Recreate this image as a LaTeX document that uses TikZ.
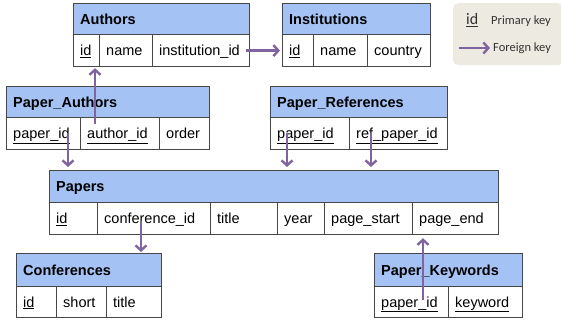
\documentclass[tikz,border=0pt]{standalone}
\usepackage{fontspec}
\setmainfont{Liberation Sans}
\newfontfamily\legendfont{Carlito}
\usetikzlibrary{arrows.meta,calc}
\definecolor{hdr}{HTML}{A4C2F4}
\definecolor{bord}{HTML}{474747}
\definecolor{fkcol}{HTML}{8064A2}
\definecolor{legbg}{HTML}{ECEAE1}
\definecolor{legtxt}{HTML}{333333}
\newcommand{\mkcell}[7]{% style, name, x, y, w, h, text
  \node[cellbox,#1,minimum width=#5pt,minimum height=#6pt] (#2) at (#3,#4) {};
  \node[celltxt] (#2t) at ([xshift=7pt,yshift=-5pt]#2.west) {#7};}
\begin{document}
\begin{tikzpicture}[x=1pt,y=-1pt,
  cellbox/.style={draw=bord,line width=1.2pt,inner sep=0pt,anchor=north west,fill=white},
  hdrbox/.style={fill=hdr},
  celltxt/.style={anchor=base west,inner sep=0pt,font=\fontsize{14.5}{16}\selectfont},
  fk/.style={draw=fkcol,line width=2.4pt,-{Straight Barb[length=5pt,width=11pt]}}]
\useasboundingbox (0,0) rectangle (561,320);
% legend
\node[fill=legbg,rounded corners=5pt,minimum width=110pt,minimum height=62pt,anchor=north west,inner sep=0pt] (legend) at (453,3) {};
\node[anchor=base west,inner sep=0pt,text=legtxt,font=\legendfont\fontsize{16}{18}\selectfont] (lgid) at (466,25) {\underline{id}};
\node[anchor=base west,inner sep=0pt,text=legtxt,font=\legendfont\fontsize{12.5}{14}\selectfont] (lgpk) at (491,25) {Primary key};
\node[anchor=base west,inner sep=0pt,text=legtxt,font=\legendfont\fontsize{12.5}{14}\selectfont] (lgfk) at (493,52) {Foreign key};
\coordinate (lga) at (459,48);
\coordinate (lgb) at (490,48);
\draw[fk] (lga) -- (lgb);
% Authors
\mkcell{hdrbox}{au}{73}{3}{176}{31}{\textbf{Authors}}
\mkcell{}{au_id}{73}{34}{26}{32}{\underline{id}}
\mkcell{}{au_name}{99}{34}{53}{32}{name}
\mkcell{}{au_inst}{152}{34}{97}{32}{institution\_id}
% Institutions
\mkcell{hdrbox}{in}{282}{3}{148}{31}{\textbf{Institutions}}
\mkcell{}{in_id}{282}{34}{31}{32}{\underline{id}}
\mkcell{}{in_name}{313}{34}{54}{32}{name}
\mkcell{}{in_country}{367}{34}{63}{32}{country}
% Paper_Authors
\mkcell{hdrbox}{pa}{6}{86}{203}{31}{\textbf{Paper\_Authors}}
\mkcell{}{pa_pid}{6}{117}{74}{32}{\underline{paper\_id}}
\mkcell{}{pa_aid}{80}{117}{79}{32}{\underline{author\_id}}
\mkcell{}{pa_order}{159}{117}{50}{32}{order}
% Paper_References
\mkcell{hdrbox}{pr}{270}{86}{177}{31}{\textbf{Paper\_References}}
\mkcell{}{pr_pid}{270}{117}{79}{32}{\underline{paper\_id}}
\mkcell{}{pr_rid}{349}{117}{98}{32}{\underline{ref\_paper\_id}}
% Papers
\mkcell{hdrbox}{pp}{49}{170}{449}{32}{\textbf{Papers}}
\mkcell{}{pp_id}{49}{202}{48}{32}{\underline{id}}
\mkcell{}{pp_conf}{97}{202}{113}{32}{conference\_id}
\mkcell{}{pp_title}{210}{202}{67}{32}{title}
\mkcell{}{pp_year}{277}{202}{47}{32}{year}
\mkcell{}{pp_start}{324}{202}{88}{32}{page\_start}
\mkcell{}{pp_end}{412}{202}{86}{32}{page\_end}
% Conferences
\mkcell{hdrbox}{cf}{16}{253}{145}{33}{\textbf{Conferences}}
\mkcell{}{cf_id}{16}{286}{40}{31}{\underline{id}}
\mkcell{}{cf_short}{56}{286}{50}{31}{short}
\mkcell{}{cf_title}{106}{286}{55}{31}{title}
% Paper_Keywords
\mkcell{hdrbox}{pk}{374}{253}{148}{33}{\textbf{Paper\_Keywords}}
\mkcell{}{pk_pid}{374}{286}{74}{31}{\underline{paper\_id}}
\mkcell{}{pk_kw}{448}{286}{74}{31}{\underline{keyword}}
% foreign keys
\coordinate (s1) at ($(pa_aid.north west)+(15,7)$);
\draw[fk] (s1) -- ([yshift=-1pt]s1 |- au_id.south);
\coordinate (s2) at ($(pa_pid.north west)+(62,16)$);
\draw[fk] (s2) -- ([yshift=3pt]s2 |- pp.north);
\coordinate (s3) at ($(au_inst.east)+(-4,0)$);
\draw[fk] (s3) -- ([xshift=-2pt]in_id.west);
\coordinate (s4) at ($(pr_pid.north west)+(17,16)$);
\draw[fk] (s4) -- ([yshift=3pt]s4 |- pp.north);
\coordinate (s5) at ($(pr_rid.north west)+(22,16)$);
\draw[fk] (s5) -- ([yshift=3pt]s5 |- pp.north);
\coordinate (s6) at ($(pp_conf.north west)+(44,19)$);
\draw[fk] (s6) -- ([yshift=1pt]s6 |- cf.north);
\coordinate (s7) at ($(pk_pid.north west)+(49,14)$);
\draw[fk] (s7) -- ([yshift=-3pt]s7 |- pp_end.south);
\end{tikzpicture}
\end{document}
